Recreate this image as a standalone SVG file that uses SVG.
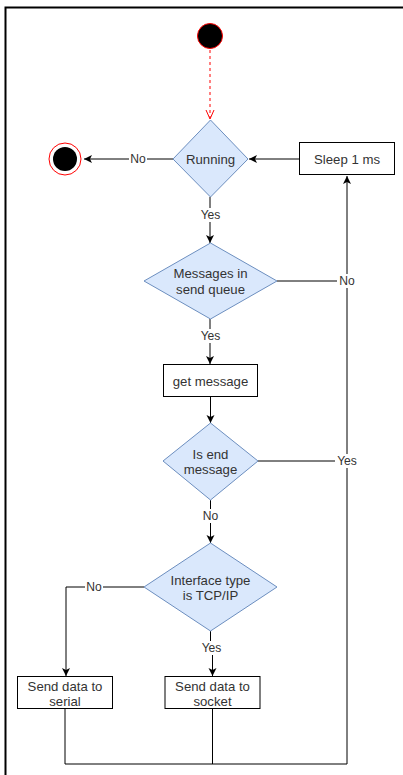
<svg xmlns="http://www.w3.org/2000/svg" width="403" height="775" viewBox="0 0 403 775">
<style>
.t{font-family:"Liberation Sans",Arial,sans-serif;font-size:13.2px;fill:#333;text-anchor:middle;dominant-baseline:central}
.l{font-family:"Liberation Sans",Arial,sans-serif;font-size:12.1px;fill:#333;text-anchor:middle;dominant-baseline:central}
.dia{fill:#dae8fc;stroke:#6c8ebf;stroke-width:1}
.box{fill:#fff;stroke:#000;stroke-width:1}
.c{fill:none;stroke:#000;stroke-width:1}
.lb{fill:#fff}
</style>
<defs>
<marker id="arr" markerWidth="10" markerHeight="10" refX="9" refY="5" orient="auto" markerUnits="userSpaceOnUse">
<path d="M1,1 L9,5 L1,9 L3,5 Z" fill="#000"/>
</marker>
</defs>
<rect x="0" y="0" width="403" height="775" fill="#fff"/>
<g id="frame">
<path d="M5.5,775 V7.5 H403" fill="none" stroke="#000" stroke-width="2"/>
</g>
<g id="connectors">
<path d="M210,50 V118" fill="none" stroke="#f00" stroke-width="1" stroke-dasharray="3,3"/>
<path d="M206,110 L210,119 L214,110" fill="none" stroke="#f00" stroke-width="1"/>
<path class="c" d="M173,159 H84" marker-end="url(#arr)"/>
<rect class="lb" x="129" y="152" width="18" height="14"/>
<text class="l" x="138" y="159">No</text>
<path class="c" d="M299,159 H249" marker-end="url(#arr)"/>
<path class="c" d="M210,197 V243" marker-end="url(#arr)"/>
<rect class="lb" x="199" y="208" width="23" height="14"/>
<text class="l" x="210.5" y="215">Yes</text>
<path class="c" d="M277,281 H347"/>
<path class="c" d="M210,319 V364" marker-end="url(#arr)"/>
<rect class="lb" x="199" y="329" width="23" height="14"/>
<text class="l" x="210.5" y="336">Yes</text>
<path class="c" d="M210.5,397 V423" marker-end="url(#arr)"/>
<path class="c" d="M258,461 H347"/>
<path class="c" d="M210.5,500 V543" marker-end="url(#arr)"/>
<rect class="lb" x="201" y="509" width="19" height="14"/>
<text class="l" x="210.5" y="516">No</text>
<path class="c" d="M144,587 H66 V676" marker-end="url(#arr)"/>
<rect class="lb" x="85" y="580" width="18" height="14"/>
<text class="l" x="94" y="587">No</text>
<path class="c" d="M210.5,631 V648 H212.5 V676" marker-end="url(#arr)"/>
<rect class="lb" x="200" y="641" width="24" height="14"/>
<text class="l" x="211.5" y="648">Yes</text>
<path class="c" d="M65,709 V764 H347 V176" marker-end="url(#arr)"/>
<path class="c" d="M212.5,709 V764"/>
<rect class="lb" x="337" y="274" width="20" height="14"/>
<text class="l" x="347" y="281">No</text>
<rect class="lb" x="335" y="454" width="24" height="14"/>
<text class="l" x="347" y="461">Yes</text>
</g>
<g id="start">
<circle cx="210" cy="36" r="12.5" fill="#000" stroke="#f00" stroke-width="1"/>
</g>
<g id="end">
<circle cx="65" cy="159" r="16" fill="#fff" stroke="#f00" stroke-width="1"/>
<circle cx="65" cy="159" r="12" fill="#000"/>
</g>
<g id="running">
<polygon class="dia" points="210.5,120 248,159 210.5,197 173,159"/>
<text class="t" x="210.5" y="159">Running</text>
</g>
<g id="sleep">
<rect class="box" x="299.5" y="142.5" width="95" height="32"/>
<text class="t" x="347" y="159">Sleep 1 ms</text>
</g>
<g id="messages">
<polygon class="dia" points="210.5,243 277,281 210.5,319 144,281"/>
<text class="t" x="210.5" y="273">Messages in</text>
<text class="t" x="210.5" y="289">send queue</text>
</g>
<g id="getmessage">
<rect class="box" x="163.5" y="364.5" width="94" height="32"/>
<text class="t" x="210.5" y="381">get message</text>
</g>
<g id="isend">
<polygon class="dia" points="210.5,423 258,461 210.5,500 163,461"/>
<text class="t" x="210.5" y="454">Is end</text>
<text class="t" x="210.5" y="469">message</text>
</g>
<g id="interface">
<polygon class="dia" points="210.5,543 277,587 210.5,631 144,587"/>
<text class="t" x="210.5" y="580">Interface type</text>
<text class="t" x="210.5" y="595">is TCP/IP</text>
</g>
<g id="serial">
<rect class="box" x="17.5" y="676.5" width="95" height="32"/>
<text class="t" x="65" y="686">Send data to</text>
<text class="t" x="65" y="701">serial</text>
</g>
<g id="socket">
<rect class="box" x="165" y="676.5" width="95" height="32"/>
<text class="t" x="212.5" y="686">Send data to</text>
<text class="t" x="212.5" y="701">socket</text>
</g>
</svg>
